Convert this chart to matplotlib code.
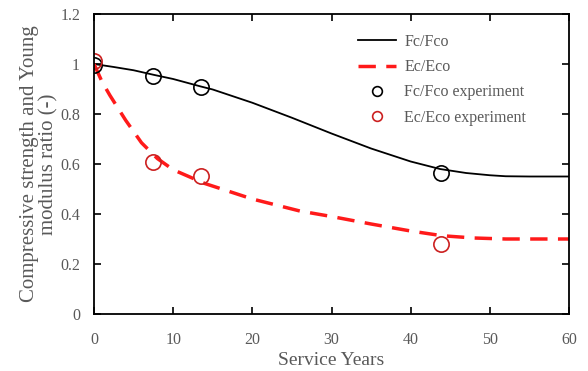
import matplotlib
matplotlib.use('Agg')
import matplotlib.pyplot as plt
from matplotlib.ticker import FuncFormatter

# model curves
fc_years = [0, 2.5, 5, 7.5, 10, 13.5, 15, 20, 25, 30, 35, 40, 43.7, 47, 50, 52, 55, 60]
fc_ratio = [1.0, 0.988, 0.975, 0.957, 0.94, 0.91, 0.898, 0.845, 0.785, 0.722, 0.662, 0.61, 0.58, 0.564, 0.555, 0.551, 0.55, 0.55]
ec_years = [0, 1, 2, 4, 6, 8, 10, 14, 20, 26, 30, 35, 40, 44, 48, 52, 60]
ec_ratio = [1.0, 0.93, 0.875, 0.775, 0.685, 0.622, 0.577, 0.522, 0.46, 0.412, 0.39, 0.36, 0.332, 0.313, 0.304, 0.30, 0.30]

# experiments
exp_years = [0, 7.5, 13.5, 43.8]
fc_exp = [0.996, 0.952, 0.907, 0.563]
ec_exp = [1.012, 0.607, 0.551, 0.28]

grey = '#595959'
plt.rcParams['font.family'] = ['Liberation Serif', 'DejaVu Serif']

fig = plt.figure(figsize=(5.88, 3.71), dpi=100)
ax = fig.add_axes([94/588, 1 - 314/371, 475/588, 300/371])

ax.plot(fc_years, fc_ratio, color='black', lw=1.3, label='Fc/Fco')
ax.plot(ec_years, ec_ratio, color='#ff1a1a', lw=2.5, ls=(0, (5, 3)), label='Ec/Eco')
ax.plot(exp_years, fc_exp, 'o', mfc='none', mec='black', mew=1.2, ms=11, label='Fc/Fco experiment')
ax.plot(exp_years, ec_exp, 'o', mfc='none', mec='#cc2020', mew=1.2, ms=11, label='Ec/Eco experiment')

ax.set_xlim(0, 60)
ax.set_ylim(0, 1.2)
ax.set_xticks(range(0, 61, 10))
ax.set_yticks([0, 0.2, 0.4, 0.6, 0.8, 1.0, 1.2])
ax.yaxis.set_major_formatter(FuncFormatter(lambda v, p: '%g' % round(v, 1)))
ax.tick_params(direction='in', length=5, width=1.2, top=True, right=True,
               labelsize=11.5, labelcolor=grey)
ax.tick_params(axis='x', pad=13)
ax.tick_params(axis='y', pad=10)
for s in ax.spines.values():
    s.set_linewidth(1.3)

ax.set_xlabel('Service Years', fontsize=14, color=grey, labelpad=3)
ax.set_ylabel('Compressive strength and Young\nmodulus ratio (-)', fontsize=15,
              color=grey, labelpad=1, linespacing=1.05)

leg = ax.legend(loc='upper left', frameon=False, fontsize=11.5, handlelength=2.4,
                handletextpad=0.5, labelspacing=0.58, borderaxespad=0,
                bbox_to_anchor=(0.542, 0.955))
for t in leg.get_texts():
    t.set_color(grey)
for h in leg.legend_handles[2:]:
    h.set_markersize(7)

fig.savefig('out.png', dpi=100)
